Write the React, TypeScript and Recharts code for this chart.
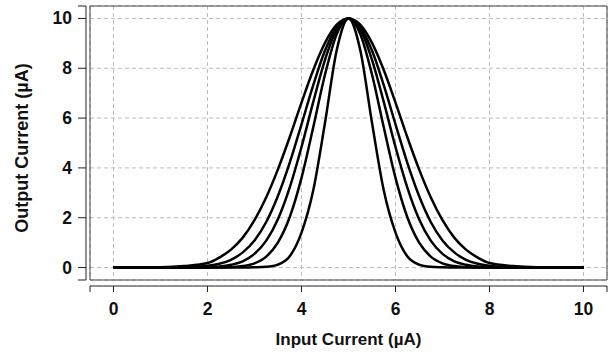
import React from 'react';
import { LineChart, Line, XAxis, YAxis, CartesianGrid, ReferenceArea } from 'recharts';

const xValues = [0, 0.5, 1, 1.5, 2, 2.25, 2.5, 2.75, 3, 3.25, 3.5, 3.75, 4, 4.25, 4.5, 4.75, 5, 5.25, 5.5, 5.75, 6, 6.25, 6.5, 6.75, 7, 7.25, 7.5, 7.75, 8, 8.5, 9, 9.5, 10];
const curveA = [0, 0, 0.01, 0.06, 0.18, 0.4, 0.72, 1.2, 1.9, 2.82, 3.95, 5.24, 6.62, 7.93, 9.02, 9.75, 10, 9.75, 9.02, 7.93, 6.62, 5.24, 3.95, 2.82, 1.9, 1.2, 0.72, 0.4, 0.18, 0.06, 0.01, 0, 0];
const curveB = [0, 0, 0, 0.01, 0.07, 0.15, 0.31, 0.61, 1.09, 1.83, 2.88, 4.21, 5.75, 7.32, 8.71, 9.66, 10, 9.66, 8.71, 7.32, 5.75, 4.21, 2.88, 1.83, 1.09, 0.61, 0.31, 0.15, 0.07, 0.01, 0, 0, 0];
const curveC = [0, 0, 0, 0, 0.01, 0.04, 0.11, 0.25, 0.55, 1.08, 1.95, 3.22, 4.84, 6.65, 8.34, 9.56, 10, 9.56, 8.34, 6.65, 4.84, 3.22, 1.95, 1.08, 0.55, 0.25, 0.11, 0.04, 0.01, 0, 0, 0, 0];
const curveD = [0, 0, 0, 0, 0, 0, 0.02, 0.06, 0.17, 0.44, 1.01, 2.03, 3.6, 5.63, 7.75, 9.38, 10, 9.38, 7.75, 5.63, 3.6, 2.03, 1.01, 0.44, 0.17, 0.06, 0.02, 0, 0, 0, 0, 0, 0];
const curveE = [0, 0, 0, 0, 0, 0, 0, 0, 0.01, 0.03, 0.12, 0.45, 1.4, 3.1, 5.81, 8.73, 10, 8.73, 5.81, 3.1, 1.4, 0.45, 0.12, 0.03, 0.01, 0, 0, 0, 0, 0, 0, 0, 0];

const tickValues = [0, 2, 4, 6, 8, 10];
const axisTicks = [-0.5, 0, 2, 4, 6, 8, 10, 10.5];
const axisDomain: [number, number] = [-0.5, 10.5];
const xTitle = 'Input Current (µA)';
const yTitle = 'Output Current (µA)';

const data = xValues.map((x, i) => ({
  x,
  a: curveA[i],
  b: curveB[i],
  c: curveC[i],
  d: curveD[i],
  e: curveE[i],
}));

const FONT = '"Liberation Sans", Arial, sans-serif';
const AXIS_COLOR = '#222';

const XTick = (props: any) => {
  const { x, y, payload } = props;
  if (!tickValues.includes(payload.value)) return null;
  return (
    <text x={x} y={y + 23} textAnchor="middle" fontFamily={FONT} fontWeight="bold" fontSize={17.5} fill="#111">
      {payload.value}
    </text>
  );
};

const YTick = (props: any) => {
  const { x, y, payload } = props;
  if (!tickValues.includes(payload.value)) return null;
  return (
    <text x={x - 6} y={y + 6} textAnchor="end" fontFamily={FONT} fontWeight="bold" fontSize={17.5} fill="#111">
      {payload.value}
    </text>
  );
};

const XTitle = (props: any) => {
  const vb = props.viewBox || {};
  return (
    <text x={vb.x + vb.width / 2} y={vb.y + 59} textAnchor="middle" fontFamily={FONT} fontWeight="bold" fontSize={17} fill="#111">
      {xTitle}
    </text>
  );
};

const YTitle = (props: any) => {
  const vb = props.viewBox || {};
  const cx = 22;
  const cy = vb.y + vb.height / 2 + 5;
  return (
    <text
      x={cx}
      y={cy}
      transform={`rotate(-90, ${cx}, ${cy})`}
      textAnchor="middle"
      dominantBaseline="central"
      fontFamily={FONT}
      fontWeight="bold"
      fontSize={18}
      fill="#111"
    >
      {yTitle}
    </text>
  );
};

export default function App() {
  return (
    <div style={{ position: 'absolute', left: 0, top: 0, width: 611, height: 354, background: '#fff' }}>
      <LineChart width={611} height={354} data={data} margin={{ top: 6, right: 4, bottom: 0, left: 0 }}>
        <XAxis
          xAxisId="gap"
          dataKey="x"
          type="number"
          domain={axisDomain}
          ticks={tickValues}
          height={6}
          axisLine={false}
          tickLine={false}
          tick={false}
        />
        <XAxis
          xAxisId="main"
          dataKey="x"
          type="number"
          domain={axisDomain}
          ticks={axisTicks}
          interval={0}
          height={68}
          tickSize={6}
          tickMargin={0}
          axisLine={{ stroke: AXIS_COLOR, strokeWidth: 1 }}
          tickLine={{ stroke: AXIS_COLOR, strokeWidth: 1 }}
          tick={<XTick />}
          label={{ content: <XTitle /> }}
        />
        <YAxis
          yAxisId="gap"
          type="number"
          domain={axisDomain}
          ticks={tickValues}
          width={4}
          axisLine={false}
          tickLine={false}
          tick={false}
        />
        <YAxis
          yAxisId="main"
          type="number"
          domain={axisDomain}
          ticks={axisTicks}
          interval={0}
          width={86}
          tickSize={8}
          tickMargin={0}
          axisLine={{ stroke: AXIS_COLOR, strokeWidth: 1 }}
          tickLine={{ stroke: AXIS_COLOR, strokeWidth: 1 }}
          tick={<YTick />}
          label={{ content: <YTitle /> }}
        />
        <CartesianGrid xAxisId="main" yAxisId="main" stroke="#bcbcbc" strokeDasharray="4 3" />
        <ReferenceArea
          xAxisId="main"
          yAxisId="main"
          x1={-0.5}
          x2={10.5}
          y1={-0.5}
          y2={10.5}
          fill="#fff"
          fillOpacity={0}
          stroke="#444"
          strokeWidth={1}
          ifOverflow="visible"
        />
        {(['a', 'b', 'c', 'd', 'e'] as const).map((k) => (
          <Line
            key={k}
            xAxisId="main"
            yAxisId="main"
            dataKey={k}
            type="monotone"
            stroke="#000"
            strokeWidth={2.5}
            dot={false}
            isAnimationActive={false}
          />
        ))}
      </LineChart>
    </div>
  );
}
